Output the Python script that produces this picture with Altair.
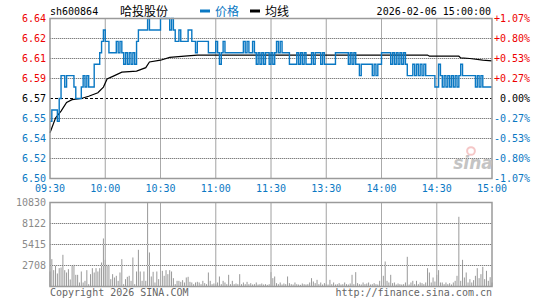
import altair as alt
import pandas as pd

# ---------------- data ----------------
code = "sh600864"
name = "哈投股份"
stamp = "2026-02-06 15:00:00"
prev_close = 6.57

prices = [
    6.55, 6.56, 6.56, 6.56, 6.55, 6.57, 6.59, 6.59, 6.58, 6.59,
    6.59, 6.59, 6.59, 6.58, 6.57, 6.57, 6.57, 6.58, 6.59, 6.58,
    6.59, 6.58, 6.58, 6.58, 6.60, 6.60, 6.60, 6.61, 6.62, 6.63,
    6.62, 6.62, 6.61, 6.61, 6.61, 6.61, 6.62, 6.61, 6.62, 6.61,
    6.60, 6.61, 6.60, 6.61, 6.60, 6.61, 6.60, 6.62, 6.63, 6.63,
    6.63, 6.63, 6.63, 6.64, 6.63, 6.63, 6.63, 6.63, 6.63, 6.63,
    6.64, 6.64, 6.64, 6.64, 6.64, 6.63, 6.64, 6.63, 6.62, 6.62,
    6.63, 6.62, 6.62, 6.62, 6.62, 6.63, 6.63, 6.62, 6.62, 6.61,
    6.62, 6.62, 6.62, 6.62, 6.62, 6.62, 6.61, 6.61, 6.61, 6.61,
    6.62, 6.61, 6.60, 6.61, 6.62, 6.61, 6.61, 6.61, 6.61, 6.61,
    6.61, 6.61, 6.61, 6.61, 6.61, 6.62, 6.61, 6.62, 6.61, 6.61,
    6.62, 6.61, 6.60, 6.61, 6.60, 6.61, 6.60, 6.61, 6.61, 6.60,
    6.61, 6.60, 6.61, 6.62, 6.61, 6.62, 6.61, 6.61, 6.61, 6.61,
    6.60, 6.60, 6.60, 6.60, 6.61, 6.60, 6.61, 6.60, 6.61, 6.60,
    6.60, 6.60, 6.61, 6.60, 6.61, 6.61, 6.61, 6.60, 6.61, 6.60,
    6.60, 6.60, 6.60, 6.60, 6.60, 6.61, 6.61, 6.61, 6.61, 6.61,
    6.61, 6.61, 6.60, 6.61, 6.60, 6.61, 6.60, 6.60, 6.59, 6.60,
    6.60, 6.60, 6.60, 6.60, 6.60, 6.59, 6.60, 6.59, 6.60, 6.60,
    6.61, 6.61, 6.61, 6.61, 6.61, 6.60, 6.61, 6.60, 6.61, 6.60,
    6.61, 6.60, 6.61, 6.60, 6.59, 6.59, 6.59, 6.60, 6.59, 6.60,
    6.59, 6.60, 6.59, 6.60, 6.59, 6.59, 6.59, 6.59, 6.59, 6.58,
    6.58, 6.60, 6.59, 6.58, 6.59, 6.58, 6.59, 6.58, 6.59, 6.58,
    6.59, 6.58, 6.59, 6.60, 6.59, 6.59, 6.59, 6.59, 6.59, 6.59,
    6.59, 6.58, 6.59, 6.58, 6.59, 6.58, 6.58, 6.58, 6.58, 6.58, 6.58,
]

volumes = [
    1935, 3526, 2107, 2666, 1677, 2365, 2451, 4085, 2107, 1806,
    2236, 903, 2666, 2795, 1505, 1505, 516, 1935, 516, 731,
    2107, 301, 1591, 2365, 1806, 2365, 1935, 2365, 3096, 6192,
    3440, 2795, 2795, 946, 1591, 1161, 1376, 731, 1806, 3526,
    301, 946, 1247, 1376, 731, 3741, 301, 1935, 4730, 1935,
    731, 1935, 731, 10830, 4386, 1290, 1892, 516, 1935, 946,
    1075, 2021, 1376, 2107, 1591, 2107, 1935, 1075, 301, 731,
    731, 602, 817, 516, 1161, 1247, 602, 516, 301, 516,
    602, 516, 301, 731, 430, 301, 1806, 731, 301, 387,
    301, 516, 1290, 301, 731, 516, 301, 1505, 301, 731,
    301, 387, 301, 1591, 301, 516, 301, 602, 301, 430,
    258, 301, 516, 258, 301, 387, 258, 301, 215, 301,
    1850, 1075, 1290, 430, 301, 516, 258, 387, 301, 1290,
    430, 301, 258, 516, 301, 258, 215, 387, 301, 258,
    301, 516, 1075, 645, 430, 860, 301, 516, 258, 430,
    301, 258, 860, 301, 516, 258, 301, 430, 258, 301,
    516, 301, 258, 387, 1505, 301, 1850, 430, 301, 258,
    516, 301, 387, 516, 258, 301, 430, 301, 258, 731,
    301, 1376, 3225, 731, 516, 1505, 430, 516, 258, 387,
    301, 258, 301, 516, 3827, 258, 516, 731, 301, 731,
    301, 516, 430, 301, 516, 2365, 1806, 516, 1161, 645,
    1505, 2107, 516, 516, 301, 516, 301, 430, 258, 516,
    731, 1376, 8987, 731, 3440, 1161, 1806, 516, 946, 516,
    817, 1376, 2365, 1075, 1591, 2537, 946, 2021, 731, 1200,
    516,
]

avg_minutes = [0, 3, 6, 9, 12, 17, 21, 26, 29, 31, 35, 39, 47, 52, 54, 60,
               65, 73, 80, 120, 205, 206, 222, 223, 228, 235, 240]
avg_values = [6.540, 6.553, 6.559, 6.5665, 6.569, 6.570, 6.572, 6.575, 6.580,
              6.587, 6.590, 6.593, 6.594, 6.597, 6.602, 6.6035, 6.606, 6.607,
              6.608, 6.608, 6.608, 6.607, 6.607, 6.6055, 6.605, 6.6035, 6.603]

time_ticks = [0, 30, 60, 90, 120, 150, 180, 210, 240]
time_labels = ["09:30", "10:00", "10:30", "11:00", "11:30", "13:30", "14:00", "14:30", "15:00"]

price_ticks = [6.64, 6.6225, 6.605, 6.5875, 6.57, 6.5525, 6.535, 6.5175, 6.50]
price_labels = ["6.64", "6.62", "6.61", "6.59", "6.57", "6.55", "6.54", "6.52", "6.50"]
pct_labels = ["+1.07%", "+0.80%", "+0.53%", "+0.27%", "0.00%", "-0.27%", "-0.53%", "-0.80%", "-1.07%"]

vol_ticks = [10830, 8122.5, 5415, 2707.5]
vol_labels = ["10830", "8122", "5415", "2708"]

# ---------------- style ----------------
BLUE = "#0a78c3"
RED = "#ee0000"
GRID = "#808080"
GRID_SOFT = "#d4d4d4"
FRAME = "#9a9a9a"
FONT = "DejaVu Sans Mono"
CJK = "Noto Sans CJK SC"
W, H = 442, 269

xs = alt.Scale(domain=[0, 240], range=[0, W], nice=False, zero=False)
py = alt.Scale(domain=[6.50, 6.64], range=[160.5, 0.5], nice=False, zero=False)
vy = alt.Scale(domain=[0, 10830], range=[268.5, 184.5], nice=False, zero=False)

one = pd.DataFrame({"a": [0]})
price_df = pd.DataFrame({"m": list(range(len(prices))), "p": prices})
vol_df = pd.DataFrame({"m": list(range(len(volumes))), "v": volumes})
avg_df = pd.DataFrame({"m": avg_minutes, "v": avg_values})
pgrid_df = pd.DataFrame({"g": [t for t in price_ticks if t not in (6.64, 6.50, prev_close)]})
vgrid_df = pd.DataFrame({"g": [t for t in vol_ticks if t != 10830]})
tgrid_df = pd.DataFrame({"m": time_ticks[1:-1]})
plab_df = pd.DataFrame({"v": price_ticks, "t": price_labels, "q": pct_labels})
vlab_df = pd.DataFrame({"v": vol_ticks, "t": vol_labels})
tlab_df = pd.DataFrame({"m": time_ticks, "t": time_labels})
pframe_df = pd.DataFrame({"m0": [0], "m1": [240], "v0": [6.50], "v1": [6.64]})
vframe_df = pd.DataFrame({"m0": [0], "m1": [240], "v0": [0], "v1": [10830]})


def X(f):
    return alt.X(f, scale=xs, axis=None)


def PY(f):
    return alt.Y(f, scale=py, axis=None)


def VY(f):
    return alt.Y(f, scale=vy, axis=None)


color_expr = (f"datum.v > {prev_close + 1e-4} ? '{RED}' : "
              f"(datum.v < {prev_close - 1e-4} ? '{BLUE}' : 'black')")


def hgrid(df, Y, dashed):
    kw = {"strokeDash": [1, 1], "color": GRID} if dashed else {"color": GRID_SOFT}
    return alt.Chart(df).transform_calculate(x0="0", x1="240").mark_rule(
        strokeWidth=1, strokeOpacity=1, **kw).encode(y=Y("g:Q"), x=X("x0:Q"), x2="x1:Q")


def vgrid(lo, hi, Y, dashed):
    kw = {"strokeDash": [1, 1], "color": GRID} if dashed else {"color": GRID_SOFT}
    return alt.Chart(tgrid_df).transform_calculate(lo=str(lo), hi=str(hi)).mark_rule(
        strokeWidth=1, strokeOpacity=1, **kw).encode(x=X("m:Q"), y=Y("lo:Q"), y2="hi:Q")


# ---------------- price panel ----------------
p_zero = alt.Chart(pd.DataFrame({"g": [prev_close]})).transform_calculate(x0="0", x1="240").mark_rule(
    color="black", strokeDash=[3, 2], strokeWidth=1).encode(y=PY("g:Q"), x=X("x0:Q"), x2="x1:Q")
p_line = alt.Chart(price_df).mark_line(interpolate="step-after", color=BLUE, strokeWidth=1.4).encode(
    x=X("m:Q"), y=PY("p:Q"))
p_avg = alt.Chart(avg_df).mark_line(color="black", strokeWidth=1.2).encode(
    x=X("m:Q"), y=PY("v:Q"))
p_frame = alt.Chart(pframe_df).mark_rect(filled=False, color=FRAME, strokeWidth=1.5).encode(
    x=X("m0:Q"), x2="m1:Q", y=PY("v0:Q"), y2="v1:Q")
p_left = alt.Chart(plab_df).transform_calculate(c=color_expr, x0="0").mark_text(
    align="right", baseline="middle", dx=-4, font=FONT, fontSize=10).encode(
    x=X("x0:Q"), y=PY("v:Q"), text="t:N", color=alt.Color("c:N", scale=None))
p_right = alt.Chart(plab_df).transform_calculate(c=color_expr, x1="240").mark_text(
    align="right", baseline="middle", dx=38, font=FONT, fontSize=10).encode(
    x=X("x1:Q"), y=PY("v:Q"), text="q:N", color=alt.Color("c:N", scale=None))
t_labels = alt.Chart(tlab_df).mark_text(
    align="center", baseline="middle", font=FONT, fontSize=10, color=BLUE).encode(
    x=X("m:Q"), y=alt.value(171), text="t:N")


def txt(s, x, y, align="left", font=FONT, size=10, color="black", **kw):
    return alt.Chart(one).mark_text(align=align, baseline="middle", font=font, fontSize=size,
                                    color=color, text=s, **kw).encode(x=alt.value(x), y=alt.value(y))


leg_blue = alt.Chart(one).mark_rule(color=BLUE, strokeWidth=3).encode(
    x=alt.value(150), x2=alt.value(160), y=alt.value(-7))
leg_black = alt.Chart(one).mark_rule(color="black", strokeWidth=3).encode(
    x=alt.value(200), x2=alt.value(210), y=alt.value(-7))

annots = [
    txt(code, 0, -6.5),
    txt(name, 70, -6.5, font=CJK, size=12),
    leg_blue, txt("价格", 165, -6.5, font=CJK, size=12, color=BLUE),
    leg_black, txt("均线", 215, -6.5, font=CJK, size=12),
    txt(stamp, 441, -6.5, align="right"),
    txt("Copyright 2026 SINA.COM", 0, 274.5, color="#666666"),
    txt("http://finance.sina.com.cn", 442, 274.5, align="right", color="#666666"),
    txt("sina", 423, 146, align="center", font="DejaVu Sans", size=17, color="#c4c4c4",
        fontStyle="italic", fontWeight="bold"),
    alt.Chart(one).mark_point(shape="circle", size=60, color="#f2b0b0", strokeWidth=2).encode(
        x=alt.value(421), y=alt.value(133)),
]

price_group = alt.layer(
    p_zero,
    hgrid(pgrid_df, PY, False), vgrid(6.50, 6.64, PY, False),
    hgrid(pgrid_df, PY, True), vgrid(6.50, 6.64, PY, True),
    p_avg, p_line, p_frame, p_left, p_right, t_labels, *annots)

# ---------------- volume panel ----------------
v_bars = alt.Chart(vol_df).transform_calculate(b="0").mark_rule(color="#999999", strokeWidth=1).encode(
    x=X("m:Q"), y=VY("v:Q"), y2="b:Q")
v_frame = alt.Chart(vframe_df).mark_rect(filled=False, color=FRAME, strokeWidth=1.5).encode(
    x=X("m0:Q"), x2="m1:Q", y=VY("v0:Q"), y2="v1:Q")
v_left = alt.Chart(vlab_df).transform_calculate(x0="0").mark_text(
    align="right", baseline="middle", dx=-4, font=FONT, fontSize=10, color="#8a8a8a").encode(
    x=X("x0:Q"), y=VY("v:Q"), text="t:N")

vol_group = alt.layer(
    v_bars,
    hgrid(vgrid_df, VY, False), vgrid(0, 10830, VY, False),
    hgrid(vgrid_df, VY, True), vgrid(0, 10830, VY, True),
    v_frame, v_left)

chart = alt.layer(price_group, vol_group).resolve_scale(
    y="independent"
).properties(
    width=W, height=H,
    padding={"left": 50, "top": 18, "right": 53, "bottom": 13},
    autosize=alt.AutoSizeParams(type="none"),
    background="white",
).configure_view(stroke=None)

chart.save("out.html", embed_options={"renderer": "svg", "actions": False})
